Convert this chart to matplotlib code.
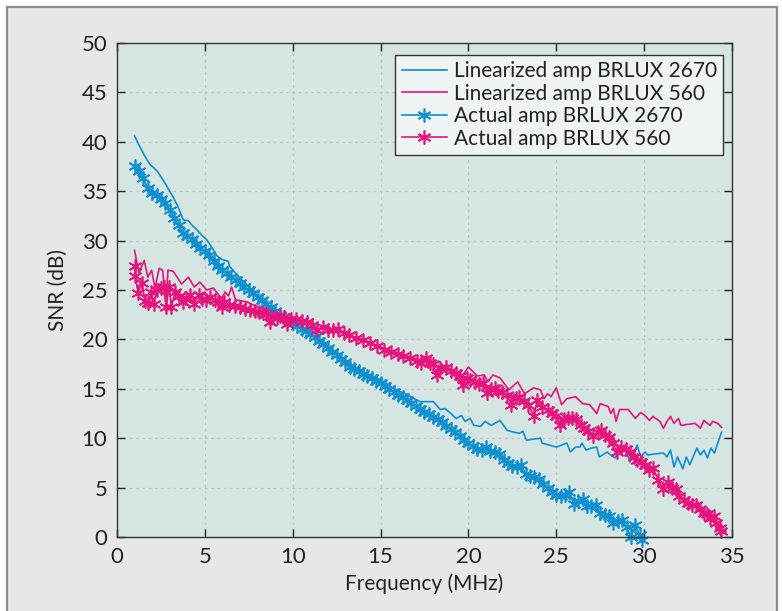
import matplotlib
matplotlib.use("Agg")
import matplotlib.pyplot as plt
from matplotlib.patches import Rectangle

plt.rcParams['font.family'] = ['Lato', 'DejaVu Sans']

# ---- data ----
lin2670_f = [1.0, 1.3, 1.6, 1.88, 2.07, 2.3, 2.6, 2.9, 3.2, 3.5, 3.77, 4.06, 4.3, 4.6, 4.85, 5.1,
             5.4, 5.67, 5.95, 6.34, 6.4, 6.7, 7.0, 7.4, 7.8, 8.2, 8.6, 9.0, 9.3, 9.7, 10.1, 10.6,
             11.2, 11.7, 12.2, 12.7, 13.1, 13.5, 14.0, 14.5, 15.0, 15.2, 15.6, 16.0, 16.4, 16.8,
             17.25, 17.6, 18.0, 18.4, 18.67, 19.0, 19.3, 19.6, 19.8, 20.1, 20.3, 20.7, 20.95, 21.3,
             21.5, 21.8, 22.2, 22.6, 22.9, 23.1, 23.3, 23.7, 24.1, 24.2, 24.6, 25.0, 25.3, 25.6,
             25.8, 26.1, 26.35, 26.45, 26.7, 27.0, 27.3, 27.45, 27.9, 28.1, 28.35, 28.6, 28.9, 29.2,
             29.6, 29.8, 30.05, 30.2, 30.6, 31.1, 31.3, 31.5, 31.7, 31.9, 32.2, 32.4, 32.6, 33.0,
             33.2, 33.4, 33.6, 33.8, 34.0, 34.4]
lin2670_snr = [40.6, 39.5, 38.5, 37.7, 37.4, 37.0, 36.2, 35.3, 34.4, 33.3, 32.1, 32.0, 31.5, 31.0, 30.5, 30.1,
               29.3, 28.5, 28.1, 27.9, 27.4, 26.8, 26.2, 25.5, 24.8, 24.0, 23.3, 22.8, 22.5, 22.1, 21.7, 21.2,
               20.4, 19.8, 19.0, 18.3, 17.7, 17.3, 16.7, 16.3, 15.9, 15.7, 15.2, 14.8, 14.5, 14.1,
               13.7, 13.7, 13.7, 12.9, 13.0, 12.5, 12.0, 12.3, 11.7, 12.0, 11.3, 11.2, 11.7, 11.3,
               11.5, 11.8, 10.8, 10.6, 10.5, 10.7, 9.8, 9.9, 10.0, 9.5, 9.3, 9.1, 9.3, 9.5,
               8.6, 9.1, 9.1, 9.5, 8.8, 9.0, 9.1, 8.1, 8.6, 8.3, 8.0, 8.8, 9.0, 7.6,
               9.3, 8.1, 8.6, 8.3, 8.4, 8.5, 8.1, 8.8, 7.1, 8.1, 6.9, 8.1, 7.3, 9.0,
               8.3, 8.8, 8.0, 9.0, 8.5, 10.6]

lin560_f = [1.0, 1.25, 1.55, 1.75, 1.97, 2.16, 2.4, 2.6, 2.78, 2.9, 3.2, 3.68, 4.06, 4.4, 4.72, 5.1,
            5.48, 5.75, 5.96, 6.15, 6.34, 6.52, 6.75, 7.4, 7.95, 8.6, 9.2, 9.8, 10.5, 11.2, 12.0,
            12.8, 13.6, 14.4, 15.2, 16.0, 16.8, 17.6, 18.3, 18.9, 19.1, 19.45, 20.0, 20.5, 20.9,
            21.1, 21.4, 21.8, 22.3, 22.8, 23.2, 23.7, 24.1, 24.3, 24.5, 24.7, 25.0, 25.3, 25.6,
            26.1, 26.5, 26.9, 27.3, 27.5, 27.96, 28.1, 28.25, 28.4, 28.6, 29.1, 29.5, 29.8, 30.05,
            30.3, 30.5, 30.9, 31.1, 31.3, 31.5, 31.7, 31.95, 32.1, 32.9, 33.2, 33.4, 33.75, 33.9,
            34.2, 34.4]
lin560_snr = [29.0, 26.7, 28.0, 26.3, 27.0, 25.2, 27.2, 27.0, 23.5, 27.0, 26.9, 25.6, 26.3, 25.3, 25.8, 25.0,
              25.2, 24.6, 24.1, 24.8, 24.4, 25.3, 24.0, 23.8, 23.3, 23.0, 22.5, 22.2, 22.0, 21.6, 21.2,
              20.7, 20.2, 19.7, 19.1, 18.6, 18.1, 17.8, 17.3, 16.9, 16.6, 15.8, 17.2, 16.3, 16.4,
              15.7, 16.4, 16.1, 14.9, 15.7, 14.5, 15.1, 14.9, 14.0, 14.5, 14.2, 15.1, 13.4, 14.0,
              14.2, 13.5, 13.4, 12.5, 13.5, 13.2, 12.5, 13.0, 11.7, 12.9, 12.9, 12.0, 12.6, 12.3,
              11.8, 12.2, 11.7, 11.0, 11.7, 12.2, 11.5, 12.0, 11.3, 11.5, 11.0, 11.8, 11.3, 11.7,
              11.5, 11.1]

act2670_f = [1.0, 1.25, 1.5, 1.75, 2.0, 2.25, 2.5, 2.75, 3.0, 3.25, 3.5, 3.75, 4.0, 4.25, 4.5, 4.75,
             5.0, 5.25, 5.5, 5.75, 6.0, 6.25, 6.5, 6.75, 7.0, 7.25, 7.5, 7.75, 8.0, 8.25, 8.5, 8.75,
             9.0, 9.25, 9.5, 9.75, 10.0, 10.25, 10.5, 10.75, 11.0, 11.25, 11.5, 11.75, 12.0, 12.25,
             12.5, 12.75, 13.0, 13.25, 13.5, 13.75, 14.0, 14.25, 14.5, 14.75, 15.0, 15.25, 15.5,
             15.75, 16.0, 16.25, 16.5, 16.75, 17.0, 17.25, 17.5, 17.75, 18.0, 18.25, 18.5, 18.75,
             19.0, 19.25, 19.5, 19.75, 20.0, 20.25, 20.5, 20.75, 21.0, 21.25, 21.5, 21.75, 22.0,
             22.25, 22.5, 22.75, 23.0, 23.25, 23.5, 23.75, 24.0, 24.25, 24.5, 24.75, 25.0, 25.25,
             25.5, 25.75, 26.0, 26.25, 26.5, 26.75, 27.0, 27.25, 27.5, 27.75, 28.0, 28.25, 28.5,
             28.75, 29.0, 29.25, 29.5, 29.75, 29.9]
act2670_snr = [37.6, 37.0, 36.3, 35.3, 34.8, 34.6, 34.2, 33.8, 33.1, 32.3, 31.6, 30.8, 30.5, 30.2, 29.7, 29.3,
               28.9, 28.5, 27.9, 27.4, 27.0, 26.7, 26.3, 26.0, 25.7, 25.3, 25.0, 24.7, 24.3, 24.0, 23.6, 23.3,
               22.9, 22.5, 22.3, 22.0, 21.7, 21.4, 21.1, 20.8, 20.5, 20.2, 19.8, 19.5, 19.1, 18.7,
               18.4, 18.0, 17.7, 17.2, 17.0, 16.8, 16.5, 16.3, 16.1, 15.8, 15.6, 15.3, 15.0,
               14.7, 14.4, 14.2, 13.9, 13.6, 13.3, 13.0, 12.7, 12.4, 12.1, 11.9, 11.6, 11.2,
               10.9, 10.6, 10.2, 9.8, 9.5, 9.2, 8.9, 8.8, 9.1, 8.7, 8.6, 8.4, 7.8,
               7.5, 7.2, 7.1, 7.3, 6.4, 6.2, 6.1, 5.9, 5.4, 5.0, 4.6, 4.3, 4.2,
               4.3, 4.6, 3.3, 3.6, 3.8, 3.1, 3.1, 3.2, 2.4, 2.2, 2.1, 1.4, 1.6,
               1.7, 1.0, 0.0, 1.2, 0.2, -0.3]

act560_f = [1.0, 1.05, 1.2, 1.4, 1.6, 1.75, 1.95, 2.1, 2.3, 2.5, 2.7, 2.8, 2.95, 3.1, 3.3, 3.5, 3.75,
            3.95, 4.15, 4.4, 4.65, 4.85, 5.05, 5.3, 5.55, 5.75, 5.95, 6.1, 6.4, 6.7, 7.0, 7.3, 7.55,
            7.85, 8.1, 8.3, 8.5, 8.7, 8.9, 9.1, 9.3, 9.5, 9.7, 9.9, 10.2, 10.5, 10.8, 11.1, 11.4,
            11.7, 12.0, 12.3, 12.6, 12.9, 13.2, 13.6, 14.0, 14.4, 14.8, 15.2, 15.6, 16.0, 16.3,
            16.7, 17.05, 17.3, 17.6, 17.8, 18.0, 18.2, 18.4, 18.7, 19.0, 19.3, 19.5, 19.7, 19.9,
            20.1, 20.4, 20.6, 20.85, 21.05, 21.3, 21.5, 21.7, 21.9, 22.2, 22.45, 22.7, 22.9, 23.15,
            23.4, 23.75, 23.9, 24.2, 24.5, 24.75, 25.0, 25.2, 25.45, 25.65, 25.9, 26.1, 26.4, 26.6,
            26.8, 27.1, 27.35, 27.55, 27.8, 28.0, 28.2, 28.45, 28.7, 28.95, 29.2, 29.4, 29.6, 29.8,
            30.05, 30.3, 30.5, 30.8, 31.05, 31.35, 31.6, 31.8, 32.0, 32.25, 32.5, 32.7, 32.95, 33.2,
            33.4, 33.55, 33.75, 33.95, 34.1, 34.3, 34.4]
act560_snr = [27.4, 26.4, 24.7, 25.7, 23.9, 23.7, 24.8, 23.6, 25.0, 25.2, 25.3, 23.3, 25.3, 23.3, 24.8, 24.4, 23.8,
              24.2, 24.5, 23.6, 24.5, 24.1, 24.0, 24.3, 24.0, 23.8, 23.3, 23.8, 23.5, 23.4, 23.3, 23.1, 23.0,
              22.9, 22.8, 22.7, 22.6, 21.8, 22.3, 22.2, 22.4, 22.3, 21.6, 22.1, 22.1, 21.9, 21.8, 21.5, 21.0,
              21.3, 21.0, 21.0, 21.1, 20.6, 20.4, 20.1, 19.9, 19.6, 19.3, 18.9, 18.7, 18.5, 18.3,
              18.1, 17.8, 17.6, 18.1, 17.6, 17.5, 16.4, 17.1, 17.2, 16.8, 16.6, 16.3, 15.4, 16.1,
              15.9, 15.7, 15.5, 15.6, 14.6, 15.0, 15.1, 14.8, 14.7, 14.4, 13.4, 14.1, 14.2, 13.8,
              13.4, 12.2, 13.9, 13.2, 12.9, 12.6, 12.2, 11.3, 11.9, 12.0, 12.0, 11.9, 11.3, 11.0,
              10.7, 10.2, 10.6, 10.8, 10.3, 10.1, 9.5, 8.6, 9.1, 8.9, 8.6, 8.1, 7.8, 7.6,
              7.3, 6.8, 7.0, 5.8, 4.9, 5.6, 5.0, 4.9, 4.1, 3.7, 3.4, 3.2, 3.2, 2.8,
              2.4, 2.3, 1.9, 2.1, 1.4, 0.9, 0.6]

labels = ['Linearized amp BRLUX 2670', 'Linearized amp BRLUX 560',
          'Actual amp BRLUX 2670', 'Actual amp BRLUX 560']
xticks = [0, 5, 10, 15, 20, 25, 30, 35]
yticks = [0, 5, 10, 15, 20, 25, 30, 35, 40, 45, 50]

BLUE = '#0e8fd2'
PINK = '#e8127c'

fig = plt.figure(figsize=(7.82, 6.11), dpi=100)
fig.patch.set_facecolor('white')
fig.patches.append(Rectangle((7 / 782, -0.01), 770 / 782, (611 - 7) / 611 + 0.01,
                             transform=fig.transFigure, facecolor='#e6e7e8',
                             edgecolor='#8c8c8c', linewidth=1.6, zorder=-10))

ax = fig.add_axes([117 / 782, (611 - 537) / 611, (732 - 117) / 782, (537 - 43) / 611])
ax.set_zorder(5)
ax.set_facecolor('#d5e5e2')

star = (6, 2, 0)
ax.plot(lin2670_f, lin2670_snr, color=BLUE, lw=1.2, label=labels[0])
ax.plot(lin560_f, lin560_snr, color=PINK, lw=1.2, label=labels[1])
ax.plot(act2670_f, act2670_snr, color=BLUE, lw=1.2, marker=star, markersize=10,
        markeredgewidth=1.2, label=labels[2], clip_on=False)
ax.plot(act560_f, act560_snr, color=PINK, lw=1.2, marker=star, markersize=10,
        markeredgewidth=1.2, label=labels[3], clip_on=False)

ax.set_xlim(0, 35)
ax.set_ylim(0, 50)
ax.set_xticks(xticks)
ax.set_yticks(yticks)
ax.grid(True, color='#c2c4c4', linestyle=(0, (2, 3)), linewidth=0.9)
ax.tick_params(direction='in', top=True, right=True, length=6, width=1.0,
               labelsize=16, colors='#222222', pad=7)
for s in ax.spines.values():
    s.set_color('#333333')
    s.set_linewidth(1.0)

ax.set_xlabel('Frequency (MHz)', fontsize=15, color='#222222', labelpad=5)
ax.set_ylabel('SNR (dB)', fontsize=15, color='#222222', labelpad=10)

leg = ax.legend(loc='upper right', bbox_to_anchor=(1 - 9 / 615, 1 - 12 / 494),
                fontsize=15, frameon=True, fancybox=False, borderpad=0.3,
                labelspacing=0.12, handlelength=2.2, handletextpad=0.3,
                borderaxespad=0.0)
leg.get_frame().set_facecolor('#eef3f3')
leg.get_frame().set_edgecolor('#333333')
leg.get_frame().set_linewidth(1.0)
leg.get_frame().set_alpha(1)
for t in leg.get_texts():
    t.set_color('#222222')

fig.savefig('out.png', dpi=100, facecolor=fig.get_facecolor())
